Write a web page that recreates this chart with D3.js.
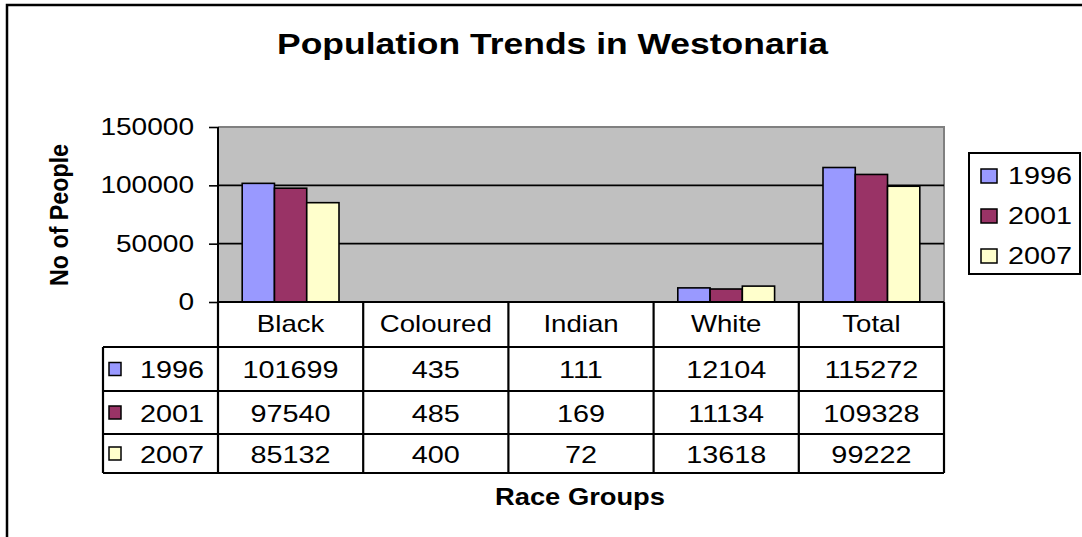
<!DOCTYPE html>
<html><head><meta charset="utf-8">
<script src="https://cdn.jsdelivr.net/npm/d3@7"></script>
<style>html,body{margin:0;padding:0;background:#fff;} svg{display:block;} text{font-family:"Liberation Sans",Arial,sans-serif;fill:#000;}</style>
</head><body>
<svg id="c" width="1082" height="537"></svg>
<script>
const title = "Population Trends in Westonaria";
const categories = ["Black","Coloured","Indian","White","Total"];
const years = ["1996","2001","2007"];
const v1996 = [101699,435,111,12104,115272];
const v2001 = [97540,485,169,11134,109328];
const v2007 = [85132,400,72,13618,99222];
const yTicks = [0,50000,100000,150000];
const yTitle = "No of People";
const xTitle = "Race Groups";
const colors = ["#9999FF","#993366","#FFFFCC"];
const series = [v1996, v2001, v2007];

const svg = d3.select("#c");
const SX = 1.2;
function txt(g, x, y, s, opts={}) {
  return g.append("text")
    .attr("transform", `translate(${x},${y}) scale(${opts.sx||SX},1)`)
    .attr("text-anchor", opts.anchor||"middle")
    .style("font-size", (opts.size||24)+"px")
    .style("font-weight", opts.bold?"bold":"normal")
    .text(s);
}

// outer chart border
svg.append("rect").attr("x",7).attr("y",5).attr("width",1090).attr("height",560)
  .attr("fill","none").attr("stroke","#000").attr("stroke-width",2.5);

const L = 218, R = 944, T = 127, B = 302;
const x0 = d3.scaleBand().domain(categories).range([L,R]).paddingInner(0).paddingOuter(0);
const x1 = d3.scaleBand().domain(years).range([0,x0.bandwidth()]).paddingInner(0).paddingOuter(0.75);
const y = d3.scaleLinear().domain([0,150000]).range([B,T]);

// plot area
svg.append("rect").attr("x",L).attr("y",T).attr("width",R-L).attr("height",B-T).attr("fill","#C0C0C0");
svg.append("path").attr("d",`M${L},${T}H${R}V${B}`).attr("fill","none").attr("stroke","#808080").attr("stroke-width",2);

// gridlines
svg.append("g").selectAll("line").data(yTicks.filter(d=>d>0 && d<150000)).join("line")
  .attr("x1",L).attr("x2",R).attr("y1",d=>y(d)).attr("y2",d=>y(d))
  .attr("stroke","#000").attr("stroke-width",1.6);

// bars
const gb = svg.append("g");
categories.forEach((c,i)=>{
  years.forEach((yr,j)=>{
    const v = series[j][i];
    const h = B-y(v);
    gb.append("rect").attr("x",x0(c)+x1(yr)).attr("y",y(v))
      .attr("width",x1.bandwidth()).attr("height",h)
      .attr("fill",colors[j]).attr("stroke",h>2?"#000":"none").attr("stroke-width",1.6);
  });
});

// y axis
const yAxis = d3.axisLeft(y).tickValues(yTicks).tickSize(9).tickFormat(d3.format("d"));
const ga = svg.append("g").attr("transform",`translate(${L},0)`).call(yAxis);
ga.select(".domain").attr("stroke","#000").attr("stroke-width",2).attr("d",`M0,${T}V${B}`);
ga.selectAll(".tick line").attr("stroke","#000").attr("stroke-width",1.6);
ga.selectAll(".tick text").remove();
yTicks.forEach(t=>{ txt(svg, 194, y(t)+8, d3.format("d")(t), {anchor:"end", size:23, sx:1.22}); });

// y title
svg.append("text").attr("transform","translate(68,215) scale(1.15,1) rotate(-90)")
  .attr("text-anchor","middle").style("font-size","22px").style("font-weight","bold")
  .attr("textLength",142).attr("lengthAdjust","spacingAndGlyphs").text(yTitle);

// title
svg.append("text").attr("x",552.5).attr("y",54).attr("text-anchor","middle")
  .style("font-size","30px").style("font-weight","bold")
  .attr("textLength",551).attr("lengthAdjust","spacingAndGlyphs").text(title);

// data table
const rowsY = [302,347,391,434,473];
const TL = 103;
const gt = svg.append("g");
gt.append("line").attr("x1",L).attr("x2",R).attr("y1",B).attr("y2",B).attr("stroke","#000").attr("stroke-width",2.2);
rowsY.slice(1).forEach(ry=>{
  gt.append("line").attr("x1",TL).attr("x2",R).attr("y1",ry).attr("y2",ry).attr("stroke","#000").attr("stroke-width",2.2);
});
gt.append("line").attr("x1",TL).attr("x2",TL).attr("y1",rowsY[1]).attr("y2",rowsY[4]).attr("stroke","#000").attr("stroke-width",2.2);
gt.append("line").attr("x1",L).attr("x2",L).attr("y1",B).attr("y2",rowsY[4]).attr("stroke","#000").attr("stroke-width",2.2);
categories.forEach(c=>{
  const xr = x0(c)+x0.bandwidth();
  gt.append("line").attr("x1",xr).attr("x2",xr).attr("y1",B).attr("y2",rowsY[4]).attr("stroke","#000").attr("stroke-width",2.2);
});
categories.forEach(c=>{ txt(gt, x0(c)+x0.bandwidth()/2, 332, c, {size:23}); });
years.forEach((yr,j)=>{
  const cy = (rowsY[j+1]+rowsY[j+2])/2;
  gt.append("rect").attr("x",109).attr("y",cy-6.5).attr("width",12).attr("height",13)
    .attr("fill",colors[j]).attr("stroke","#000").attr("stroke-width",1.5);
  txt(gt, 140, cy+9, yr, {anchor:"start", size:24, sx:1.2});
  categories.forEach((c,i)=>{
    txt(gt, x0(c)+x0.bandwidth()/2, cy+9, String(series[j][i]), {size:24});
  });
});

// x title
svg.append("text").attr("x",580).attr("y",505).attr("text-anchor","middle")
  .style("font-size","23px").style("font-weight","bold")
  .attr("textLength",170).attr("lengthAdjust","spacingAndGlyphs").text(xTitle);

// legend
const lg = svg.append("g");
lg.append("rect").attr("x",969).attr("y",153).attr("width",111).attr("height",121)
  .attr("fill","#fff").attr("stroke","#000").attr("stroke-width",2);
years.forEach((yr,j)=>{
  const cy = 176 + j*40;
  lg.append("rect").attr("x",981).attr("y",cy-7).attr("width",16).attr("height",14)
    .attr("fill",colors[j]).attr("stroke","#000").attr("stroke-width",1.5);
  txt(lg, 1008, cy+8, yr, {anchor:"start", size:23, sx:1.25});
});
</script>
</body></html>
